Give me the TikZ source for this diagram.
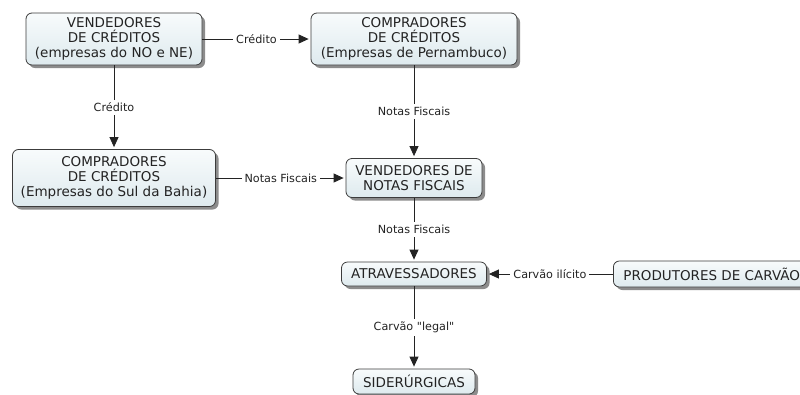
\documentclass[tikz,border=0pt]{standalone}
\usepackage{fontspec}
\setmainfont{DejaVu Sans}[Ligatures=TeXOff]
\usetikzlibrary{arrows.meta,shadows}
\definecolor{boxtop}{RGB}{248,251,252}
\definecolor{boxbot}{RGB}{222,234,238}
\definecolor{ink}{RGB}{35,35,35}
\definecolor{edgec}{RGB}{60,60,60}
\definecolor{shade}{RGB}{120,120,120}
\begin{document}
\begin{tikzpicture}[x=1pt,y=-1pt,
 box/.style={draw=edgec, line width=0.8pt, rounded corners=6pt, top color=boxtop, bottom color=boxbot,
   drop shadow={shadow xshift=3pt, shadow yshift=-3pt, fill=shade, opacity=0.85},
   align=center, text=ink, font=\fontsize{13.5}{15}\selectfont, inner sep=0pt},
 conn/.style={draw=ink, line width=0.8pt, -{Triangle[length=10pt,width=9pt]}, shorten >=2pt},
 lab/.style={fill=white, text=ink, font=\fontsize{11.2}{13}\selectfont, inner sep=3pt}]
\useasboundingbox (0,0) rectangle (800,394);
\fill[white] (0,0) rectangle (800,394);
\node[box, minimum width=176pt, minimum height=52pt] (A) at (114,39) {VENDEDORES\\DE CRÉDITOS\\(empresas do NO e NE)};
\node[box, minimum width=206pt, minimum height=52pt] (B) at (414,39) {COMPRADORES\\DE CRÉDITOS\\(Empresas de Pernambuco)};
\node[box, minimum width=203pt, minimum height=57pt] (C) at (114,178) {COMPRADORES\\DE CRÉDITOS\\(Empresas do Sul da Bahia)};
\node[box, minimum width=136pt, minimum height=39pt] (D) at (414,178) {VENDEDORES DE\\NOTAS FISCAIS};
\node[box, minimum width=145pt, minimum height=24pt] (E) at (414,274) {ATRAVESSADORES};
\node[box, anchor=west, minimum height=26pt, inner xsep=10pt] (F) at (613,274) {PRODUTORES DE CARVÃO};
\node[box, minimum width=122pt, minimum height=25pt] (G) at (414,381.5) {SIDERÚRGICAS};
\draw[conn] (A) -- node[lab]{Crédito} (B);
\draw[conn] (A) -- node[lab]{Crédito} (C);
\draw[conn] (B) -- node[lab]{Notas Fiscais} (D);
\draw[conn] (C) -- node[lab]{Notas Fiscais} (D);
\draw[conn] (D) -- node[lab]{Notas Fiscais} (E);
\draw[conn] (F) -- node[lab]{Carvão ilícito} (E);
\draw[conn] (E) -- node[lab]{Carvão "legal"} (G);
\end{tikzpicture}
\end{document}
